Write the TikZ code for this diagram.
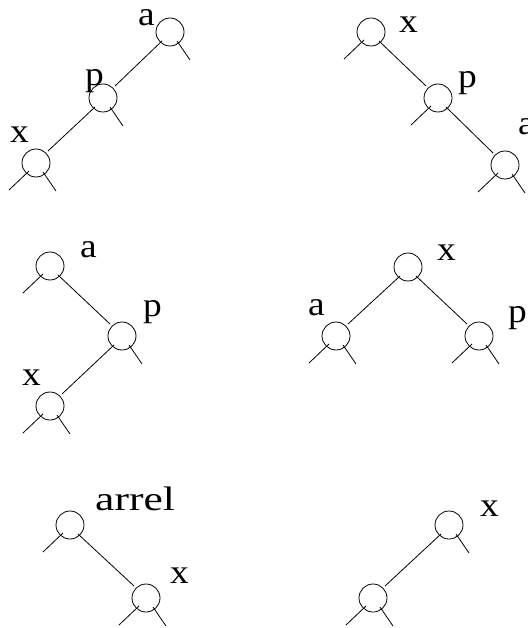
\documentclass[tikz,border=0pt]{standalone}
\usepackage{fontspec}
\setmainfont{Liberation Serif}
\usetikzlibrary{calc}
\tikzset{
  nd/.style={circle,draw,minimum size=28pt,inner sep=0pt,line width=0.8pt},
  ln/.style={line width=0.8pt},
  lbl/.style={anchor=base west,inner sep=0pt,font=\fontsize{34}{34}\selectfont}
}
\newcommand\lstub[1]{\draw[ln] ($(#1)+(-7,8)$) -- ($(#1)+(-27,27)$);}
\newcommand\rstub[1]{\draw[ln] ($(#1)+(7,9)$) -- ($(#1)+(20,28)$);}
\newcommand\edgeL[2]{\draw[ln] ($(#1)+(-8,9)$) -- ($(#2)+(12,-12)$);}
\newcommand\edgeR[2]{\draw[ln] ($(#1)+(8,9)$) -- ($(#2)+(-12,-12)$);}
\newcommand\wide[1]{\scalebox{1.1}[1]{#1}}
\begin{document}
\begin{tikzpicture}[x=1pt,y=-1pt]
\useasboundingbox (0,0) rectangle (527,628);
% panel 1
\node[nd] (a1) at (170,32) {};
\node[nd] (p1) at (103,98) {};
\node[nd] (x1) at (36,163) {};
\edgeL{a1}{p1} \edgeL{p1}{x1}
\rstub{a1} \rstub{p1} \lstub{x1} \rstub{x1}
\node[lbl] (la1) at (138,26) {\wide{a}};
\node[lbl] (lp1) at (85,86) {\wide{p}};
\node[lbl] (lx1) at (10,143) {\wide{x}};
% panel 2
\node[nd] (x2) at (371,32) {};
\node[nd] (p2) at (438,98) {};
\node[nd] (a2) at (505,165) {};
\edgeR{x2}{p2} \edgeR{p2}{a2}
\lstub{x2} \lstub{p2} \lstub{a2} \rstub{a2}
\node[lbl] (lx2) at (399,33) {\wide{x}};
\node[lbl] (lp2) at (458,88) {\wide{p}};
\node[lbl] (la2) at (518,135) {\wide{a}};
% panel 3
\node[nd] (a3) at (50,266) {};
\node[nd] (p3) at (122,336) {};
\node[nd] (x3) at (50,406) {};
\edgeR{a3}{p3} \edgeL{p3}{x3}
\lstub{a3} \rstub{p3} \lstub{x3} \rstub{x3}
\node[lbl] (la3) at (80,257) {\wide{a}};
\node[lbl] (lp3) at (143,316) {\wide{p}};
\node[lbl] (lx3) at (22,385) {\wide{x}};
% panel 4
\node[nd] (x4) at (408,267) {};
\node[nd] (a4) at (336,336) {};
\node[nd] (p4) at (479,336) {};
\edgeL{x4}{a4} \edgeR{x4}{p4}
\lstub{a4} \rstub{a4} \lstub{p4} \rstub{p4}
\node[lbl] (lx4) at (437,260) {\wide{x}};
\node[lbl] (la4) at (308,315) {\wide{a}};
\node[lbl] (lp4) at (508,322) {\wide{p}};
% panel 5
\node[nd] (r5) at (70,525) {};
\node[nd] (x5) at (146,598) {};
\edgeR{r5}{x5}
\lstub{r5} \lstub{x5} \rstub{x5}
\node[lbl] (lr5) at (95,510) {\scalebox{1.28}[1]{arrel}};
\node[lbl] (lx5) at (170,583) {\wide{x}};
% panel 6
\node[nd] (x6) at (449,525) {};
\node[nd] (c6) at (373,598) {};
\edgeL{x6}{c6}
\rstub{x6} \lstub{c6} \rstub{c6}
\node[lbl] (lx6) at (480,516) {\wide{x}};
\end{tikzpicture}
\end{document}
